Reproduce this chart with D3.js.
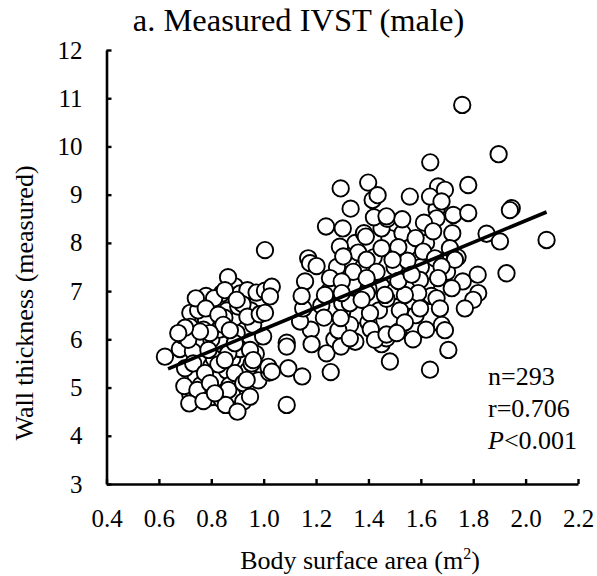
<!DOCTYPE html>
<html>
<head>
    <meta charset="utf-8">
    <title>Measured IVST (male)</title>
    <script src="https://cdn.jsdelivr.net/npm/d3@7"></script>
    <style>
        body { margin: 0; background: #fff; }
        text { font-family: "Liberation Serif", "Times New Roman", "DejaVu Serif", serif; fill: #000; }
    </style>
</head>
<body>
    <svg width="597" height="576" id="mainSvg"></svg>
    <script>
        // body surface area (m2), wall thickness (measured)
        const upperGroup = [
            [1.758,10.86],[1.897,9.84],[1.636,9.67],[1.294,9.13],[1.399,9.25],[1.781,9.20],[1.666,9.17],
            [1.692,9.10],[1.416,8.89],[1.435,8.99],[1.558,8.96],[1.635,8.96],[1.679,8.86],[1.332,8.71],
            [1.421,8.53],[1.472,8.50],[1.529,8.49],[1.238,8.34],[1.302,8.30],[1.383,8.20],[1.390,8.13],
            [1.580,8.10],[1.947,8.72],[1.940,8.68],[1.724,8.58],[1.781,8.62],[1.660,8.51],[1.612,8.42],
            [1.647,8.24],[1.851,8.19],[1.902,8.03],[2.080,8.06],[1.711,7.89],[1.609,7.82],[1.730,7.65],
            [1.549,7.63],[1.654,7.68],[1.679,7.51],[1.817,7.34],[1.927,7.37],[1.597,7.23],[1.666,7.27],
            [1.718,7.06],[1.819,6.96],[1.800,6.82],[1.590,6.96],[1.660,6.85],[1.597,6.64],[1.673,6.64],
            [1.768,6.64],[1.539,6.35],[1.692,6.19],[1.705,5.78],[1.635,5.37],[1.539,6.92],[1.514,7.91],
            [1.492,7.65],[1.469,8.55],[1.469,6.10],[1.508,6.13],[1.482,5.54],[1.291,7.92],[1.361,7.80],
            [1.450,7.89],[1.304,7.72],[1.170,7.68],[1.177,7.58],[1.202,7.52],[1.005,7.85],[1.393,7.65],
            [1.342,7.40],[1.431,7.40],[1.253,7.27],[1.298,7.20],[1.393,7.27],[1.514,7.21],[1.565,7.34],
            [1.158,7.20],[1.145,6.90],[1.234,6.92],[1.298,6.96],[1.463,6.92],[1.031,7.09],[1.024,6.89]
        ];
        const midGroup = [
            [1.35,7.10],[1.45,7.10],[1.50,7.50],[1.55,7.90],[1.42,7.70],[1.38,7.50],[1.48,8.10],[1.60,7.50],
            [1.62,7.10],[1.56,6.80],[1.52,6.60],[1.44,6.60],[1.36,6.50],[1.33,6.30],[1.40,6.35],[1.58,6.50],
            [1.64,6.90],[1.70,7.40],[1.74,7.70],[1.62,8.00],[1.45,8.30],[1.35,8.00],[1.28,7.50],[1.25,7.00],
            [1.22,6.70],[1.18,6.20],[1.27,6.00],[1.35,5.95],[1.57,7.10],[1.53,8.20],[1.66,8.70],[1.72,8.20],
            [1.76,7.20],[1.68,6.30],[1.62,6.20],[1.57,6.00],[1.45,5.90],[1.50,7.00],[1.40,7.05],[1.30,6.75],
            [1.088,5.93],[1.088,5.85],[1.183,5.90],[1.240,5.71],[1.295,5.85],[1.139,6.37],[1.230,6.45],
            [1.285,6.19],[1.294,6.44],[1.329,6.75],[1.406,6.54],[1.409,6.21],[1.469,6.02],[1.425,5.99],
            [1.514,6.16],[1.393,6.96],[1.469,6.84],[1.374,6.82],[1.151,6.64],[1.329,6.02],[1.031,5.33],
            [1.094,5.40],[1.147,5.23],[1.256,5.32],[1.088,4.64],[1.005,6.55],[0.998,6.06],[0.948,5.78],
            [0.960,5.57]
        ];
        const leftGroup = [
            [0.76,5.60],[0.80,5.45],[0.84,5.90],[0.78,6.40],[0.86,6.60],[0.90,6.40],[0.93,6.20],[0.95,5.95],
            [0.82,5.20],[0.86,5.35],[0.74,5.25],[0.70,5.40],[0.68,5.80],[0.73,5.75],[0.80,6.00],[0.88,5.60],
            [0.91,5.80],[0.97,5.70],[0.96,6.30],[0.84,6.95],[0.89,7.10],[0.78,6.90],[0.72,6.55],[0.75,6.60],
            [0.83,6.20],[0.87,5.05],[0.80,4.80],[0.92,4.95],[0.94,5.35],[0.98,5.15],[0.72,4.85],[0.76,5.05],
            [0.84,4.75],[0.88,4.85],[0.81,5.60],[0.85,6.45],[0.91,6.95],[0.98,6.80],[0.95,6.60],[0.77,6.20],
            [0.864,7.29],[0.741,6.85],[0.811,6.85],[0.852,7.02],[0.938,7.02],[0.973,6.97],[1.005,7.01],
            [0.779,6.64],[0.827,6.51],[0.903,6.68],[0.919,6.73],[0.897,6.82],[0.938,6.47],[0.985,6.52],
            [0.846,6.30],[0.795,6.13],[0.687,6.09],[0.719,6.26],[0.712,5.99],[0.757,6.16],[0.897,6.13],
            [0.623,5.64],[0.789,5.78],[0.827,5.48],[0.865,5.71],[0.731,5.50],[0.954,5.50],[1.021,5.31],
            [0.890,5.30],[0.776,5.30],[0.697,5.03],[0.747,4.95],[0.795,5.09],[0.865,4.95],[0.922,5.09],
            [0.935,5.16],[0.716,4.67],[0.770,4.72],[0.855,4.64],[0.922,4.71],[0.900,4.50],[0.814,4.88],
            [0.948,4.81],[0.700,6.24],[0.890,5.92],[0.674,6.13],[0.852,5.57],[1.018,5.43],[0.871,6.19]
        ];

        const xTicks = [0.4, 0.6, 0.8, 1.0, 1.2, 1.4, 1.6, 1.8, 2.0, 2.2];
        const yTicks = [3, 4, 5, 6, 7, 8, 9, 10, 11, 12];

        // fitted line, y = a + b*x, drawn over the range of the data
        const fitIntercept = 3.96;
        const fitSlope = 2.25;
        const fitRange = [0.635, 2.08];

        const statLines = ["n=293", "r=0.706", "<0.001"];

        const serif = '"Liberation Serif", "Times New Roman", "DejaVu Serif", serif';

        const mainSvg = d3.select('#mainSvg');
        const margin = { top: 50, right: 19, bottom: 92, left: 106.5 };
        const width = +mainSvg.attr("width");
        const height = +mainSvg.attr("height");

        const x = d3.scaleLinear().domain([0.4, 2.2]).range([margin.left, width - margin.right]);
        const y = d3.scaleLinear().domain([3, 12]).range([height - margin.bottom, margin.top]);

        const points = leftGroup.concat(midGroup, upperGroup);

        // axes, ticks pointing inward
        const xAxis = mainSvg.append("g")
            .attr("transform", `translate(0, ${y(3)})`)
            .call(d3.axisBottom(x).tickValues(xTicks).tickFormat(d3.format(".1f"))
                .tickSizeInner(-5).tickSizeOuter(0).tickPadding(25));
        const yAxis = mainSvg.append("g")
            .attr("transform", `translate(${x(0.4)}, 0)`)
            .call(d3.axisLeft(y).tickValues(yTicks).tickFormat(d3.format("d"))
                .tickSizeInner(-5).tickSizeOuter(0).tickPadding(24));

        [xAxis, yAxis].forEach(g => {
            g.attr("font-family", serif);
            g.select(".domain").attr("stroke", "#000").attr("stroke-width", 2.6);
            g.selectAll(".tick line").attr("stroke", "#000").attr("stroke-width", 2.4);
            g.selectAll(".tick text")
                .attr("font-size", 25)
                .style("font-family", serif)
                .attr("fill", "#000");
        });

        mainSvg.append("g")
            .selectAll("circle")
            .data(points)
            .join("circle")
            .attr("cx", d => x(d[0]))
            .attr("cy", d => y(d[1]))
            .attr("r", 8.2)
            .attr("fill", "#fff")
            .attr("stroke", "#000")
            .attr("stroke-width", 1.9);

        mainSvg.append("line")
            .attr("x1", x(fitRange[0]))
            .attr("y1", y(fitIntercept + fitSlope * fitRange[0]))
            .attr("x2", x(fitRange[1]))
            .attr("y2", y(fitIntercept + fitSlope * fitRange[1]))
            .attr("stroke", "#000")
            .attr("stroke-width", 3.6);

        // title and axis labels
        mainSvg.append("text")
            .attr("x", 298.5)
            .attr("y", 31)
            .attr("text-anchor", "middle")
            .attr("font-size", 32.5)
            .style("font-family", serif)
            .text("a. Measured IVST (male)");

        const xLabel = mainSvg.append("text")
            .attr("x", 360)
            .attr("y", 569)
            .attr("text-anchor", "middle")
            .attr("font-size", 26)
            .style("font-family", serif);
        xLabel.append("tspan").text("Body surface area (m");
        xLabel.append("tspan").attr("font-size", 16).attr("dy", -10).text("2");
        xLabel.append("tspan").attr("dy", 10).text(")");

        mainSvg.append("text")
            .attr("transform", "translate(33, 303) rotate(-90)")
            .attr("text-anchor", "middle")
            .attr("font-size", 26)
            .style("font-family", serif)
            .text("Wall thickness (measured)");

        // stats block
        const stats = mainSvg.append("g").attr("font-size", 26).style("font-family", serif);
        stats.append("text").attr("x", 488).attr("y", 384.5).text(statLines[0]);
        stats.append("text").attr("x", 488).attr("y", 416.5).text(statLines[1]);
        const pText = stats.append("text").attr("x", 488).attr("y", 448.5);
        pText.append("tspan").attr("font-style", "italic").text("P");
        pText.append("tspan").text(statLines[2]);
    </script>
</body>
</html>
